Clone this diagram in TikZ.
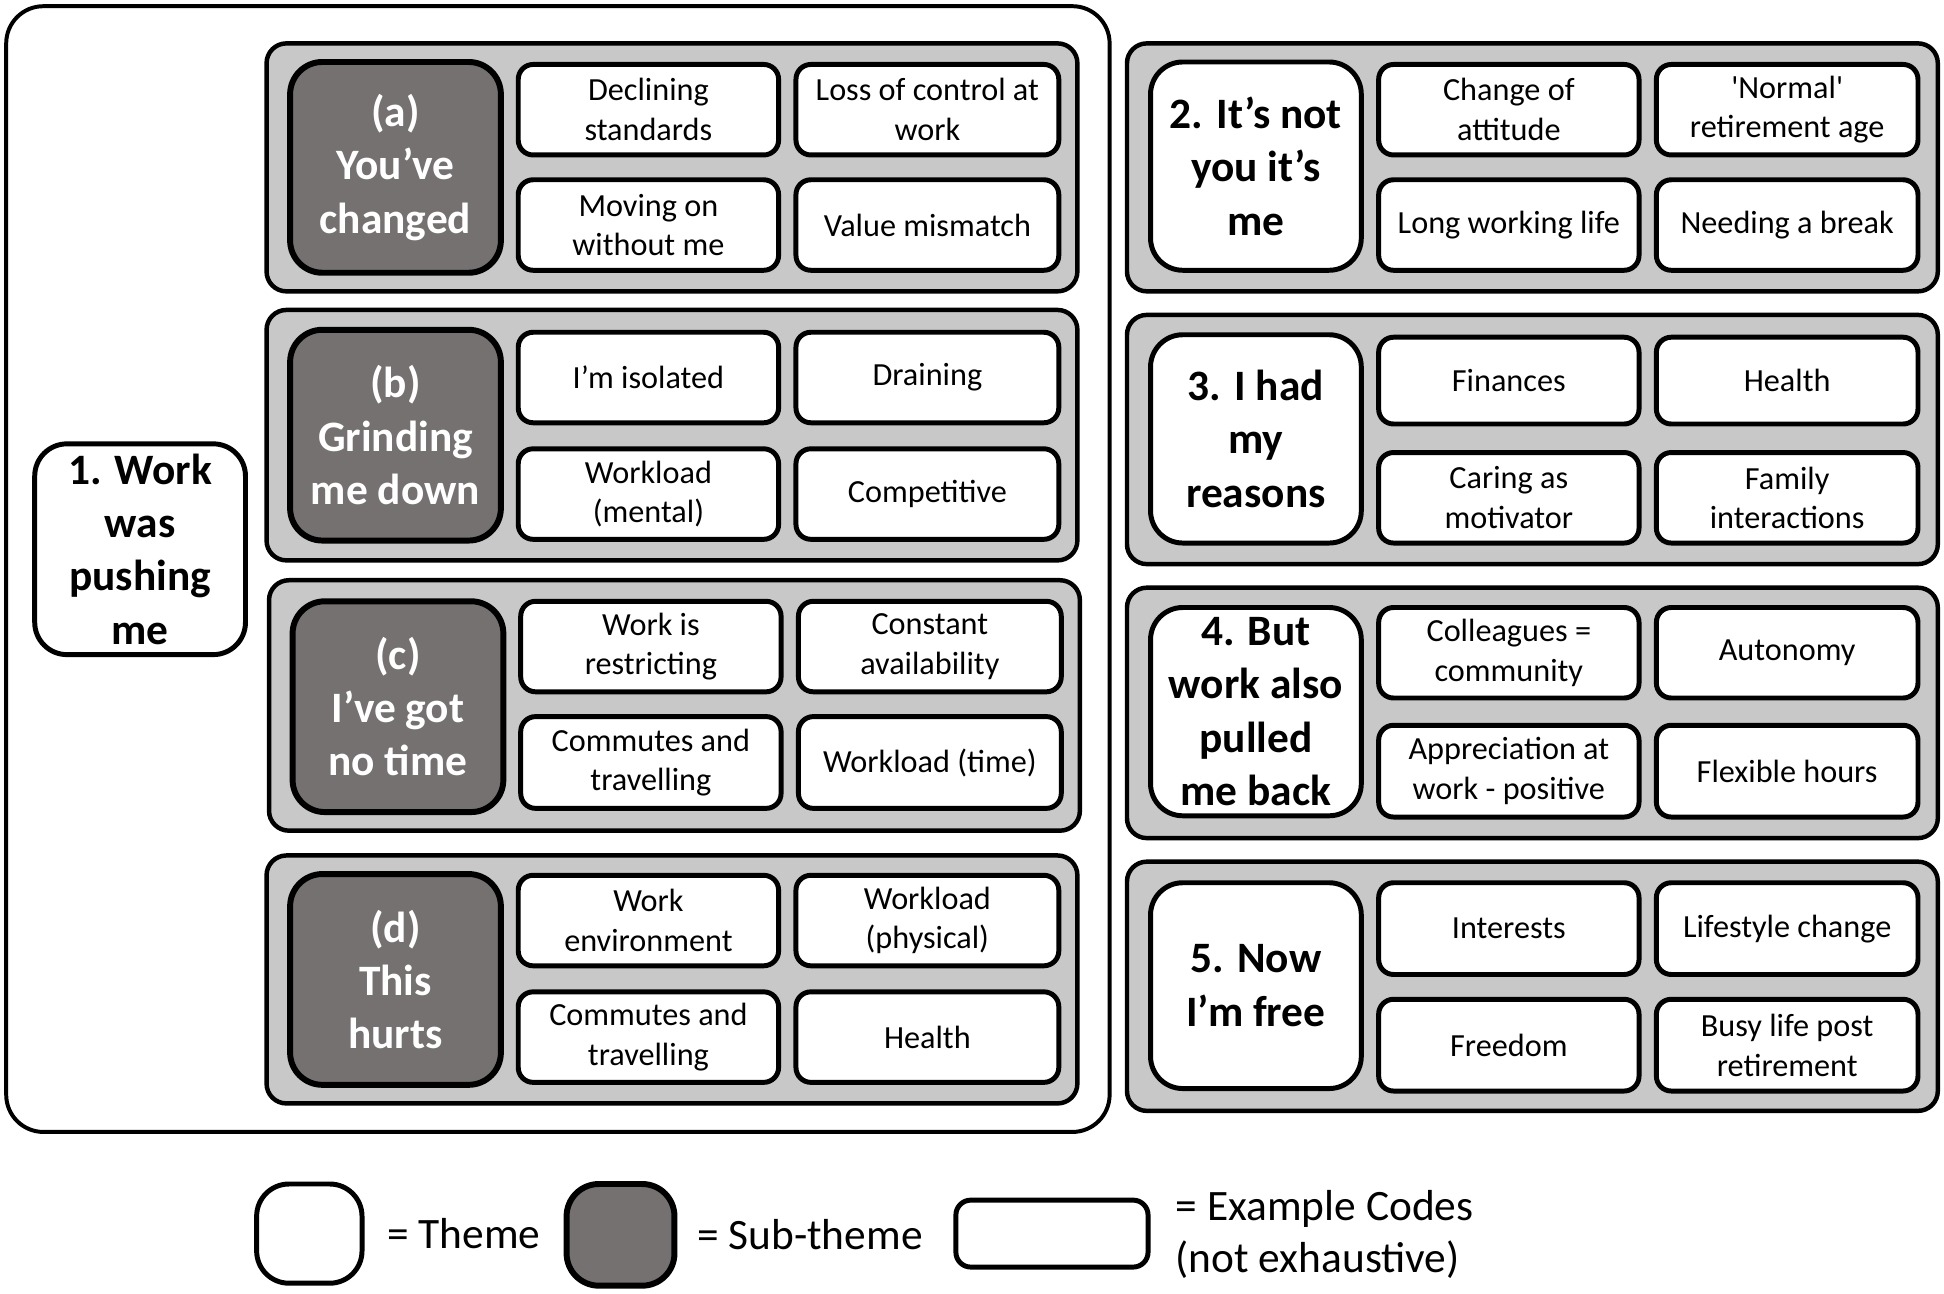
\documentclass[tikz,border=0pt]{standalone}
\usepackage{fontspec}
\setmainfont{Carlito}
\usetikzlibrary{fit}
\definecolor{grp}{RGB}{200,200,200}
\definecolor{subfill}{RGB}{117,113,113}
\tikzset{
 outerbox/.style={draw, line width=1.6pt, rounded corners=15pt, inner sep=0pt},
 groupbox/.style={draw, fill=grp, line width=1.8pt, rounded corners=8pt, inner sep=0pt},
 themebox/.style={draw, fill=white, line width=2pt, rounded corners=13pt, inner sep=0pt, font=\fontsize{17.5}{21.5}\selectfont\bfseries, align=center},
 subbox/.style={draw, fill=subfill, line width=2.4pt, rounded corners=13pt, inner sep=0pt, text=white, font=\fontsize{17.5}{21.5}\selectfont\bfseries, align=center},
 codebox/.style={draw, fill=white, line width=2pt, rounded corners=6pt, inner sep=0pt, font=\fontsize{13}{16}\selectfont, align=center},
 legtext/.style={font=\fontsize{17.5}{21}\selectfont, align=left, inner sep=0pt, anchor=west}
}
\begin{document}
\begin{tikzpicture}[x=0.5pt,y=-0.5pt]
\useasboundingbox (0,0) rectangle (1568,1043);
\fill[white] (0,0) rectangle (1568,1043);

% Theme 1 outer
\node[outerbox, fit={(5,5) (895,913)}] (outer1) {};
\node[themebox, fit={(28,358) (198,528)}] (t1) {};
\node[font=\fontsize{17.5}{21.5}\selectfont\bfseries, align=center] (t1txt) at (t1.center) {1. Work\\was\\pushing\\me};

% (a)
\node[groupbox, fit={(215,35) (869,235)}] (ga) {};
\node[subbox, fit={(234,50) (404,220)}] (sa) {};
\node[text=white, font=\fontsize{17.5}{21.5}\selectfont\bfseries, align=center] (satxt) at (sa.center) {(a)\\You’ve\\changed};
\node[codebox, fit={(418,52) (628,125)}] (a1) {};
\node[font=\fontsize{13}{16}\selectfont, align=center] (a1t) at (a1.center) {Declining\\standards};
\node[codebox, fit={(642,52) (854,125)}] (a2) {};
\node[font=\fontsize{13}{16}\selectfont, align=center] (a2t) at (a2.center) {Loss of control at\\work};
\node[codebox, fit={(418,145) (628,218)}] (a3) {};
\node[font=\fontsize{13}{16}\selectfont, align=center] (a3t) at (a3.center) {Moving on\\without me};
\node[codebox, fit={(642,145) (854,218)}] (a4) {};
\node[font=\fontsize{13}{16}\selectfont, align=center] (a4t) at (a4.center) {Value mismatch};

% (b)
\node[groupbox, fit={(215,250) (869,452)}] (gb) {};
\node[subbox, fit={(234,266) (404,436)}] (sb) {};
\node[text=white, font=\fontsize{17.5}{21.5}\selectfont\bfseries, align=center] (sbtxt) at (sb.center) {(b)\\Grinding\\me down};
\node[codebox, fit={(418,268) (628,341)}] (b1) {};
\node[font=\fontsize{13}{16}\selectfont, align=center] (b1t) at (b1.center) {I’m isolated};
\node[codebox, fit={(642,268) (854,341)}] (b2) {};
\node[font=\fontsize{13}{16}\selectfont, align=center] (b2t) at (b2.center) {Draining};
\node[codebox, fit={(418,362) (628,435)}] (b3) {};
\node[font=\fontsize{13}{16}\selectfont, align=center] (b3t) at (b3.center) {Workload\\(mental)};
\node[codebox, fit={(642,362) (854,435)}] (b4) {};
\node[font=\fontsize{13}{16}\selectfont, align=center] (b4t) at (b4.center) {Competitive};

% (c)
\node[groupbox, fit={(217,468) (871,670)}] (gc) {};
\node[subbox, fit={(236,485) (406,655)}] (sc) {};
\node[text=white, font=\fontsize{17.5}{21.5}\selectfont\bfseries, align=center] (sctxt) at (sc.center) {(c)\\I’ve got\\no time};
\node[codebox, fit={(420,485) (630,558)}] (c1) {};
\node[font=\fontsize{13}{16}\selectfont, align=center] (c1t) at (c1.center) {Work is\\restricting};
\node[codebox, fit={(644,485) (856,558)}] (c2) {};
\node[font=\fontsize{13}{16}\selectfont, align=center] (c2t) at (c2.center) {Constant\\availability};
\node[codebox, fit={(420,578) (630,652)}] (c3) {};
\node[font=\fontsize{13}{16}\selectfont, align=center] (c3t) at (c3.center) {Commutes and\\travelling};
\node[codebox, fit={(644,578) (856,652)}] (c4) {};
\node[font=\fontsize{13}{16}\selectfont, align=center] (c4t) at (c4.center) {Workload (time)};

% (d)
\node[groupbox, fit={(215,690) (869,890)}] (gd) {};
\node[subbox, fit={(234,705) (404,875)}] (sd) {};
\node[text=white, font=\fontsize{17.5}{21.5}\selectfont\bfseries, align=center] (sdtxt) at (sd.center) {(d)\\This\\hurts};
\node[codebox, fit={(418,706) (628,779)}] (d1) {};
\node[font=\fontsize{13}{16}\selectfont, align=center] (d1t) at (d1.center) {Work\\environment};
\node[codebox, fit={(642,706) (854,779)}] (d2) {};
\node[font=\fontsize{13}{16}\selectfont, align=center] (d2t) at (d2.center) {Workload\\(physical)};
\node[codebox, fit={(418,800) (628,873)}] (d3) {};
\node[font=\fontsize{13}{16}\selectfont, align=center] (d3t) at (d3.center) {Commutes and\\travelling};
\node[codebox, fit={(642,800) (854,873)}] (d4) {};
\node[font=\fontsize{13}{16}\selectfont, align=center] (d4t) at (d4.center) {Health};

% Theme 2
\node[groupbox, fit={(909,35) (1563,235)}] (g2) {};
\node[themebox, fit={(928,50) (1098,218)}] (t2) {};
\node[font=\fontsize{17.5}{21.5}\selectfont\bfseries, align=center] (t2txt) at (t2.center) {2. It’s not\\you it’s\\me};
\node[codebox, fit={(1112,52) (1322,125)}] (e1) {};
\node[font=\fontsize{13}{16}\selectfont, align=center] (e1t) at (e1.center) {Change of\\attitude};
\node[codebox, fit={(1336,52) (1547,125)}] (e2) {};
\node[font=\fontsize{13}{16}\selectfont, align=center] (e2t) at (e2.center) {\textquotesingle Normal\textquotesingle\\retirement age};
\node[codebox, fit={(1112,145) (1322,218)}] (e3) {};
\node[font=\fontsize{13}{16}\selectfont, align=center] (e3t) at (e3.center) {Long working life};
\node[codebox, fit={(1336,145) (1547,218)}] (e4) {};
\node[font=\fontsize{13}{16}\selectfont, align=center] (e4t) at (e4.center) {Needing a break};

% Theme 3
\node[groupbox, fit={(909,254) (1563,455)}] (g3) {};
\node[themebox, fit={(928,270) (1098,438)}] (t3) {};
\node[font=\fontsize{17.5}{21.5}\selectfont\bfseries, align=center] (t3txt) at (t3.center) {3. I had\\my\\reasons};
\node[codebox, fit={(1112,272) (1322,342)}] (f1) {};
\node[font=\fontsize{13}{16}\selectfont, align=center] (f1t) at (f1.center) {Finances};
\node[codebox, fit={(1336,272) (1547,342)}] (f2) {};
\node[font=\fontsize{13}{16}\selectfont, align=center] (f2t) at (f2.center) {Health};
\node[codebox, fit={(1112,365) (1322,438)}] (f3) {};
\node[font=\fontsize{13}{16}\selectfont, align=center] (f3t) at (f3.center) {Caring as\\motivator};
\node[codebox, fit={(1336,365) (1547,438)}] (f4) {};
\node[font=\fontsize{13}{16}\selectfont, align=center] (f4t) at (f4.center) {Family\\interactions};

% Theme 4
\node[groupbox, fit={(909,474) (1563,676)}] (g4) {};
\node[themebox, fit={(928,490) (1098,658)}] (t4) {};
\node[font=\fontsize{17.5}{21.5}\selectfont\bfseries, align=center] (t4txt) at (t4.center) {4. But\\work also\\pulled\\me back};
\node[codebox, fit={(1112,490) (1322,563)}] (h1) {};
\node[font=\fontsize{13}{16}\selectfont, align=center] (h1t) at (h1.center) {Colleagues =\\community};
\node[codebox, fit={(1336,490) (1547,563)}] (h2) {};
\node[font=\fontsize{13}{16}\selectfont, align=center] (h2t) at (h2.center) {Autonomy};
\node[codebox, fit={(1112,585) (1322,659)}] (h3) {};
\node[font=\fontsize{13}{16}\selectfont, align=center] (h3t) at (h3.center) {Appreciation at\\work - positive};
\node[codebox, fit={(1336,585) (1547,659)}] (h4) {};
\node[font=\fontsize{13}{16}\selectfont, align=center] (h4t) at (h4.center) {Flexible hours};

% Theme 5
\node[groupbox, fit={(909,695) (1563,896)}] (g5) {};
\node[themebox, fit={(928,712) (1098,878)}] (t5) {};
\node[font=\fontsize{17.5}{21.5}\selectfont\bfseries, align=center] (t5txt) at (t5.center) {5. Now\\I’m free};
\node[codebox, fit={(1112,712) (1322,786)}] (k1) {};
\node[font=\fontsize{13}{16}\selectfont, align=center] (k1t) at (k1.center) {Interests};
\node[codebox, fit={(1336,712) (1547,786)}] (k2) {};
\node[font=\fontsize{13}{16}\selectfont, align=center] (k2t) at (k2.center) {Lifestyle change};
\node[codebox, fit={(1112,806) (1322,880)}] (k3) {};
\node[font=\fontsize{13}{16}\selectfont, align=center] (k3t) at (k3.center) {Freedom};
\node[codebox, fit={(1336,806) (1547,880)}] (k4) {};
\node[font=\fontsize{13}{16}\selectfont, align=center] (k4t) at (k4.center) {Busy life post\\retirement};

% Legend
\node[themebox, fit={(207,955) (292,1035)}] (lg1) {};
\node[legtext] (lg1t) at (312,995) {= Theme};
\node[subbox, fit={(457,955) (544,1037)}] (lg2) {};
\node[legtext] (lg2t) at (562,996) {= Sub-theme};
\node[codebox, fit={(771,968) (926,1022)}] (lg3) {};
\node[legtext] (lg3t) at (948,996) {= Example Codes\\(not exhaustive)};
\end{tikzpicture}
\end{document}
